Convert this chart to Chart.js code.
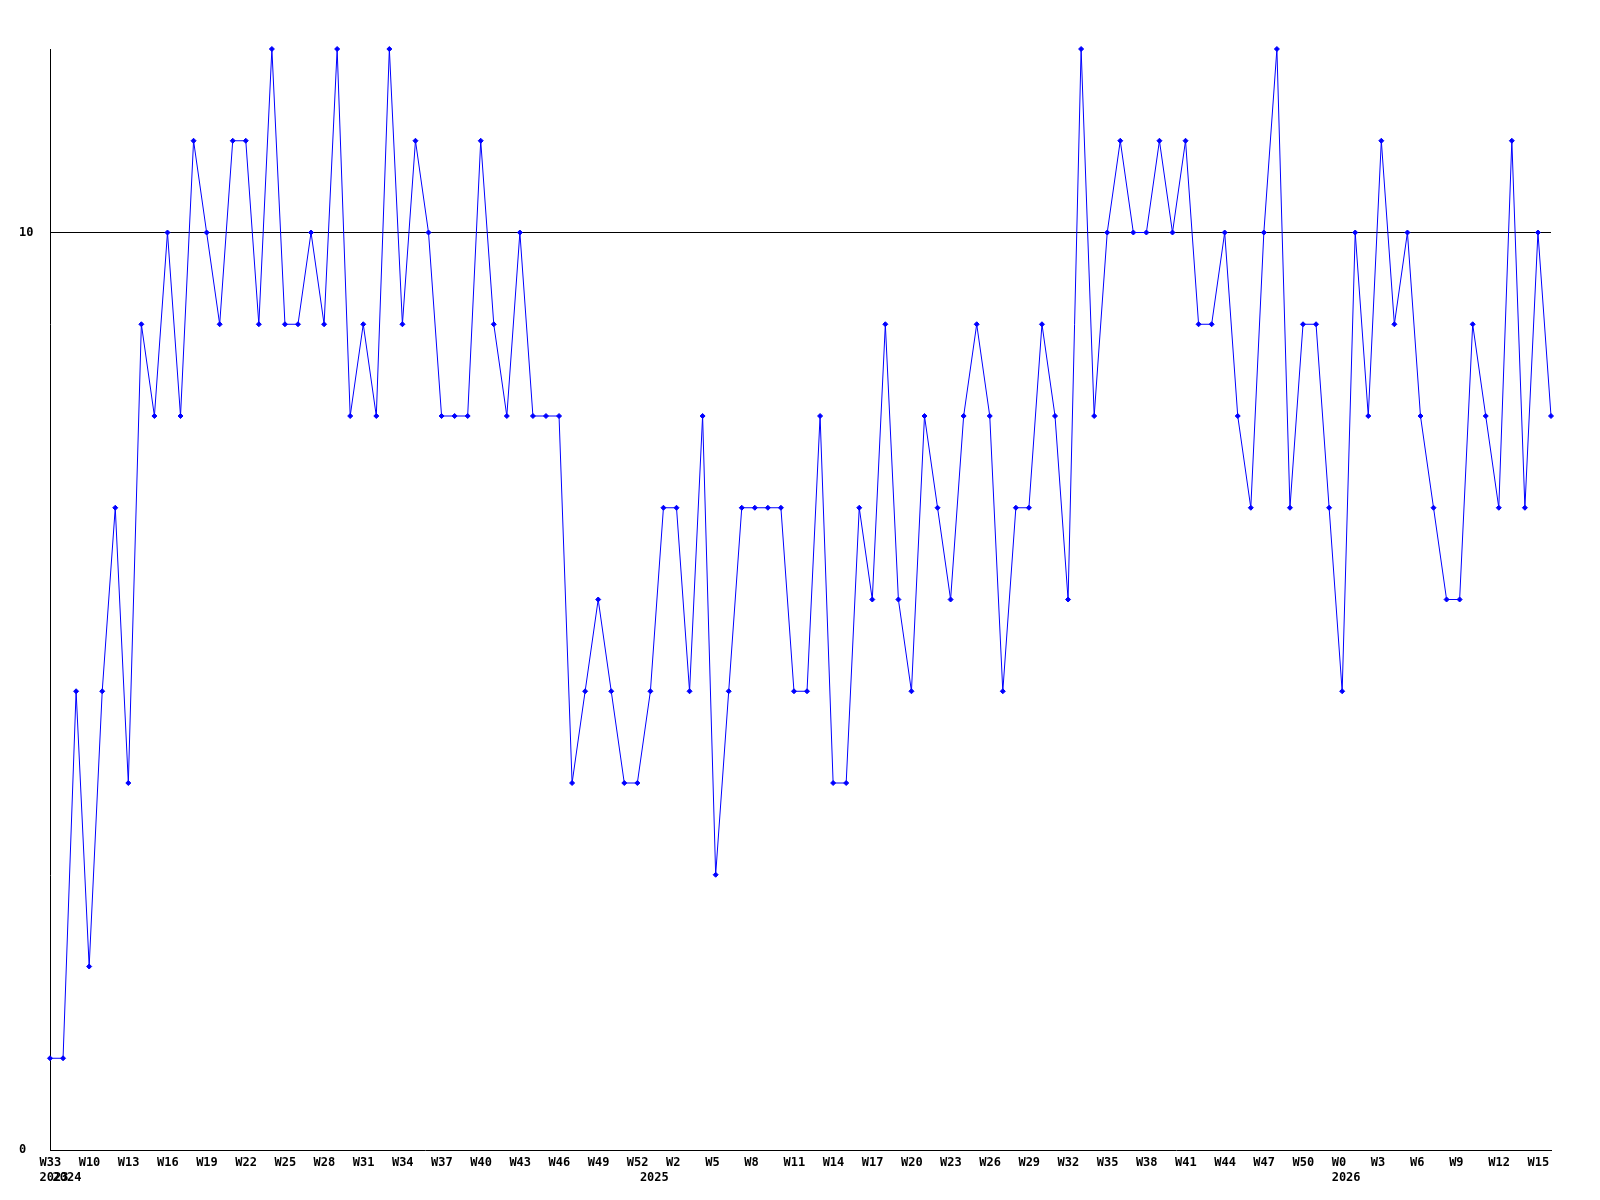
<!DOCTYPE html>
<html>
<head>
<meta charset="utf-8">
<script src="https://cdn.jsdelivr.net/npm/chart.js@4.4.0/dist/chart.umd.min.js"></script>
<style>
html,body{margin:0;padding:0;background:#ffffff;}
canvas{display:block;}
</style>
</head>
<body>
<canvas id="c" width="1600" height="1200"></canvas>
<script>
// Week numbers of each point (first point is W33 of 2023, then 2024 W8.., 2025 W0.., 2026 W0..)
const weeks = [
  33,
  8,9,10,11,12,13,14,15,16,17,18,19,20,21,22,23,24,25,26,27,28,29,30,31,32,33,34,35,36,37,38,39,40,41,42,43,44,45,46,47,48,49,50,51,52,
  0,1,2,3,4,5,6,7,8,9,10,11,12,13,14,15,16,17,18,19,20,21,22,23,24,25,26,27,28,29,30,31,32,33,34,35,36,37,38,39,40,41,42,43,44,45,46,47,48,49,50,51,52,
  0,1,2,3,4,5,6,7,8,9,10,11,12,13,14,15,16
];
// Year labels and the point index where each is shown
const yearIndex = [0, 1, 46, 99];
const yearText = ['2023', '2024', '2025', '2026'];
// Series values
const values = [
  1,1,5,2,5,7,4,9,8,10,
  8,11,10,9,11,11,9,12,9,9,
  10,9,12,8,9,8,12,9,11,10,
  8,8,8,11,9,8,10,8,8,8,
  4,5,6,5,4,4,5,7,7,5,
  8,3,5,7,7,7,7,5,5,8,
  4,4,7,6,9,6,5,8,7,6,
  8,9,8,5,7,7,9,8,6,12,
  8,10,11,10,10,11,10,11,9,9,
  10,8,7,10,12,7,9,9,7,5,
  10,8,11,9,10,8,7,6,6,9,
  8,7,11,7,10,8
];
// Y axis tick values shown
const yTickValues = [0, 10];
const labelStep = 3;

const categories = weeks.map(w => 'W' + w);
const tickFont = {family: 'DejaVu Sans Mono', weight: 'bold', size: 12, lineHeight: '15px'};

new Chart(document.getElementById('c'), {
  type: 'line',
  data: {
    labels: categories,
    datasets: [{
      data: values,
      borderColor: '#0000ff',
      backgroundColor: '#0000ff',
      borderWidth: 1,
      tension: 0,
      fill: false,
      pointStyle: 'rectRot',
      pointRadius: 2.5,
      pointBorderWidth: 1,
      pointBackgroundColor: '#0000ff',
      pointBorderColor: '#0000ff',
      clip: false
    }]
  },
  options: {
    responsive: false,
    animation: false,
    devicePixelRatio: 1,
    layout: {padding: {left: 19, right: 49, top: 49, bottom: 0}},
    plugins: {legend: {display: false}, tooltip: {enabled: false}, title: {display: false}},
    scales: {
      x: {
        type: 'category',
        offset: false,
        grid: {display: false, drawTicks: false},
        border: {display: true, color: '#000000', width: 1},
        ticks: {
          autoSkip: false,
          maxRotation: 0,
          minRotation: 0,
          align: 'start',
          labelOffset: -10.5,
          padding: 5,
          color: '#000000',
          font: tickFont,
          callback: function(value, index) {
            const first = (index % labelStep === 0) ? categories[index] : '';
            const yi = yearIndex.indexOf(index);
            if (yi >= 0) return [first, yearText[yi]];
            return first;
          }
        },
        afterFit: function(scale) { scale.height = 50; }
      },
      y: {
        min: 0,
        max: 12,
        afterBuildTicks: function(scale) { scale.ticks = yTickValues.map(v => ({value: v})); },
        grid: {
          drawTicks: false,
          lineWidth: 1,
          color: function(ctx) { return (ctx.tick && ctx.tick.value === 10) ? '#000000' : 'rgba(0,0,0,0)'; }
        },
        border: {display: true, color: '#000000', width: 1},
        ticks: {
          crossAlign: 'far',
          padding: 0,
          color: '#000000',
          font: tickFont,
          callback: function(v) { return String(v); }
        },
        afterFit: function(scale) { scale.width = 31; }
      }
    }
  }
});
</script>
</body>
</html>
